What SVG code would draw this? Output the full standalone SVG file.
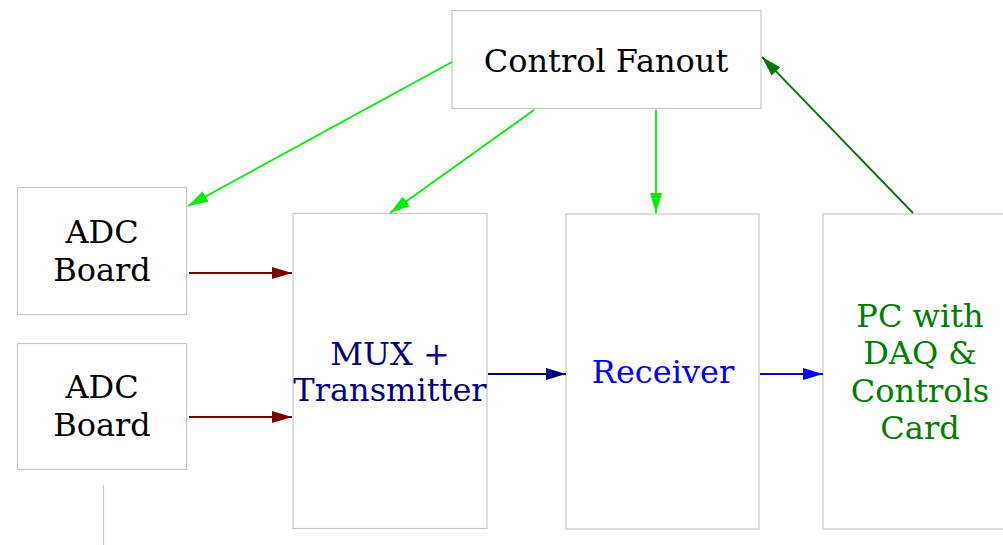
<svg xmlns="http://www.w3.org/2000/svg" width="1003" height="545" viewBox="0 0 1003 545">
<style>
.box{fill:#fff;stroke:#c8c8c8;stroke-width:1.2}
text{font-family:"DejaVu Serif",serif;font-size:32px;text-anchor:middle}
.e{fill:none;stroke-width:1.8}
</style>
<defs>
<marker id="ag" viewBox="0 0 20 14" refX="20" refY="7" markerWidth="20" markerHeight="14" orient="auto" markerUnits="userSpaceOnUse"><path d="M0,1 L20,7 L0,13 z" fill="#00ee00"/></marker>
<marker id="agd" viewBox="0 0 20 14" refX="20" refY="7" markerWidth="20" markerHeight="14" orient="auto" markerUnits="userSpaceOnUse"><path d="M0,1 L20,7 L0,13 z" fill="#007a00"/></marker>
<marker id="ar" viewBox="0 0 20 14" refX="20" refY="7" markerWidth="20" markerHeight="14" orient="auto" markerUnits="userSpaceOnUse"><path d="M0,1 L20,7 L0,13 z" fill="#7a0000"/></marker>
<marker id="an" viewBox="0 0 20 14" refX="20" refY="7" markerWidth="20" markerHeight="14" orient="auto" markerUnits="userSpaceOnUse"><path d="M0,1 L20,7 L0,13 z" fill="#000080"/></marker>
<marker id="ab" viewBox="0 0 20 14" refX="20" refY="7" markerWidth="20" markerHeight="14" orient="auto" markerUnits="userSpaceOnUse"><path d="M0,1 L20,7 L0,13 z" fill="#0000ff"/></marker>
</defs>
<g id="fanout"><rect class="box" x="452" y="10.5" width="309" height="98"/><text x="606" y="72">Control Fanout</text></g>
<g id="adc1"><rect class="box" x="17.5" y="187.5" width="169" height="127"/><text x="102" y="243">ADC</text><text x="102" y="281">Board</text></g>
<g id="adc2"><rect class="box" x="17.5" y="343.5" width="169" height="126"/><text x="102" y="398">ADC</text><text x="102" y="436">Board</text></g>
<g id="mux"><rect class="box" x="293" y="213.5" width="194" height="315"/><text x="390" y="365" fill="#000080">MUX +</text><text x="390" y="401" fill="#000080">Transmitter</text></g>
<g id="receiver"><rect class="box" x="566" y="214" width="193" height="315"/><text x="663" y="383" fill="#0000ff">Receiver</text></g>
<g id="pc"><rect class="box" x="823" y="214" width="200" height="315"/><text x="920" y="327" fill="#008000">PC with</text><text x="920" y="364" fill="#008000">DAQ &amp;</text><text x="920" y="402" fill="#008000">Controls</text><text x="920" y="439" fill="#008000">Card</text></g>
<g id="connectors">
<line class="e" x1="452" y1="62" x2="188" y2="206" stroke="#00ee00" marker-end="url(#ag)"/>
<line class="e" x1="534" y1="110" x2="390" y2="213" stroke="#00ee00" marker-end="url(#ag)"/>
<line class="e" x1="656" y1="110" x2="656" y2="213" stroke="#00ee00" marker-end="url(#ag)"/>
<line class="e" x1="913" y1="213" x2="762" y2="57" stroke="#007a00" marker-end="url(#agd)"/>
<line class="e" x1="189" y1="273" x2="292" y2="273" stroke="#7a0000" marker-end="url(#ar)"/>
<line class="e" x1="189" y1="417" x2="292" y2="417" stroke="#7a0000" marker-end="url(#ar)"/>
<line class="e" x1="488" y1="374" x2="566" y2="374" stroke="#000080" marker-end="url(#an)"/>
<line class="e" x1="760" y1="374" x2="823" y2="374" stroke="#0000ff" marker-end="url(#ab)"/>
<line x1="103.5" y1="485" x2="103.5" y2="545" stroke="#c8c8c8" stroke-width="1.2"/>
</g>
</svg>
